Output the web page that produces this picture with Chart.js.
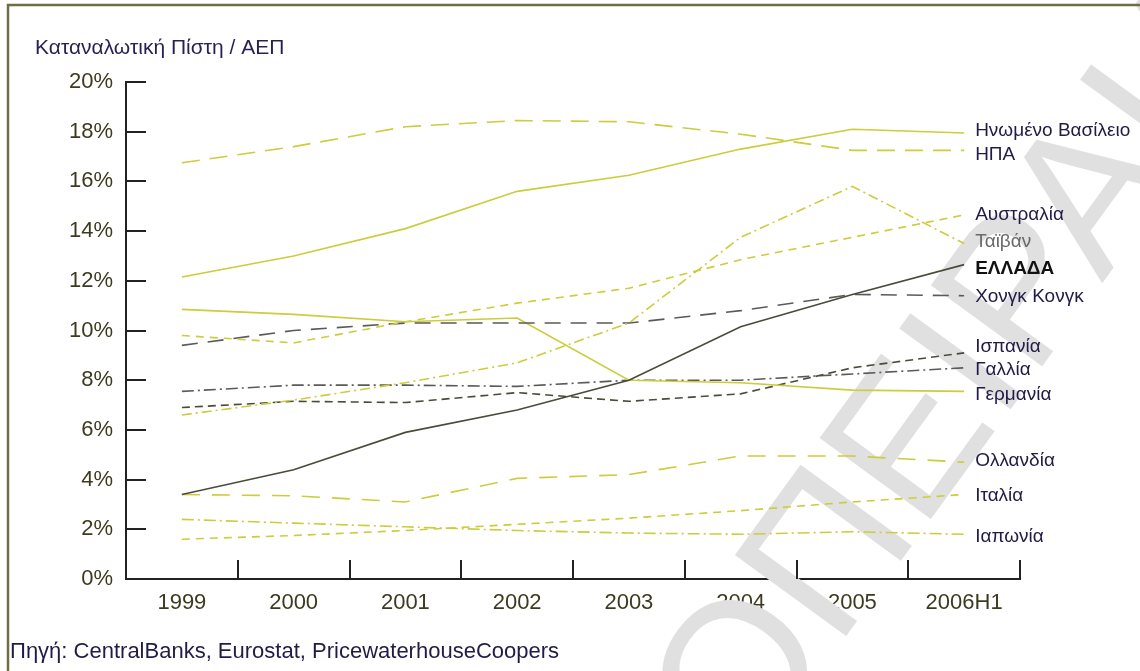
<!DOCTYPE html>
<html>
<head>
<meta charset="utf-8">
<script src="https://cdn.jsdelivr.net/npm/chart.js@4.4.0/dist/chart.umd.min.js"></script>
<style>
  html, body { margin: 0; padding: 0; background: #fff; }
</style>
</head>
<body>
<canvas id="myChart" width="1140" height="671"></canvas>
<script>
var years = ["1999", "2000", "2001", "2002", "2003", "2004", "2005", "2006H1"];
var yTicks = [0, 2, 4, 6, 8, 10, 12, 14, 16, 18, 20];

// values in % of GDP
var uk          = [12.15, 13.0, 14.1, 15.6, 16.25, 17.3, 18.1, 17.95];
var usa         = [16.75, 17.4, 18.2, 18.45, 18.4, 17.9, 17.25, 17.25];
var australia   = [9.8, 9.5, 10.35, 11.1, 11.7, 12.85, 13.75, 14.65];
var taiwan      = [6.6, 7.2, 7.9, 8.7, 10.3, 13.75, 15.8, 13.5];
var greece      = [3.4, 4.4, 5.9, 6.8, 8.0, 10.15, 11.45, 12.65];
var hongKong    = [9.4, 10.0, 10.3, 10.3, 10.3, 10.8, 11.45, 11.4];
var germany     = [10.85, 10.65, 10.35, 10.5, 8.0, 7.9, 7.6, 7.55];
var spain       = [6.9, 7.15, 7.1, 7.5, 7.15, 7.45, 8.5, 9.1];
var france      = [7.55, 7.8, 7.8, 7.75, 8.0, 8.0, 8.25, 8.5];
var netherlands = [3.4, 3.35, 3.1, 4.05, 4.2, 4.95, 4.95, 4.7];
var italy       = [1.6, 1.75, 1.95, 2.2, 2.45, 2.75, 3.1, 3.4];
var japan       = [2.4, 2.25, 2.1, 1.95, 1.85, 1.8, 1.9, 1.8];

var names = ["Ηνωμένο Βασίλειο", "ΗΠΑ", "Αυστραλία", "Ταϊβάν", "ΕΛΛΑΔΑ", "Χονγκ Κονγκ",
             "Ισπανία", "Γαλλία", "Γερμανία", "Ολλανδία", "Ιταλία", "Ιαπωνία"];
// where each end label sits (in % units)
var labelAt = [18.03, 17.06, 14.65, 13.56, 12.5, 11.35, 9.34, 8.41, 7.4, 4.75, 3.34, 1.69];

var YEL = "#cccc3c";
var DARK = "#4b4b3c";
var GREY = "#5a5a5a";

function line(data, color, dash) {
  return {
    data: data,
    borderColor: color,
    borderWidth: 1.6,
    borderDash: dash,
    pointRadius: 0,
    fill: false,
    tension: 0
  };
}

var datasets = [
  line(uk, YEL, []),
  line(usa, YEL, [18, 10]),
  line(australia, YEL, [8, 6]),
  line(taiwan, YEL, [10, 4, 2, 4]),
  line(greece, DARK, []),
  line(hongKong, GREY, [16, 10]),
  line(germany, YEL, []),
  line(spain, DARK, [8, 5]),
  line(france, GREY, [12, 4, 2, 4]),
  line(netherlands, YEL, [18, 12]),
  line(italy, YEL, [8, 6]),
  line(japan, YEL, [12, 4, 2, 4])
];
datasets.forEach(function (d, i) { d.label = names[i]; });

const FONT = "'Liberation Sans', Arial, sans-serif";

// big grey watermark behind the lines
const watermark = {
  id: "watermark",
  beforeDatasetsDraw(chart) {
    const ctx = chart.ctx;
    ctx.save();
    ctx.translate(745, 775);
    ctx.rotate(-54 * Math.PI / 180);
    ctx.font = "200px " + FONT;
    ctx.fillStyle = "#e0e0e0";
    ctx.textBaseline = "alphabetic";
    ctx.fillText("ΟΠΕΙΡΑΙΑ", 0, 0);
    ctx.restore();
  }
};

// inward tick marks, end labels, title, source, frame
const decor = {
  id: "decor",
  afterDraw(chart) {
    const ctx = chart.ctx;
    const xs = chart.scales.x, ys = chart.scales.y;
    const a = chart.chartArea;
    ctx.save();
    ctx.strokeStyle = "#222";
    ctx.lineWidth = 2;
    ctx.beginPath();
    yTicks.forEach(function (v) {
      if (v === 0) return;
      const y = Math.round(ys.getPixelForValue(v));
      ctx.moveTo(a.left, y);
      ctx.lineTo(a.left + 20, y);
    });
    const half = (xs.getPixelForValue(1) - xs.getPixelForValue(0)) / 2;
    years.forEach(function (yr, i) {
      const x = Math.round(xs.getPixelForValue(i) + half);
      ctx.moveTo(x, a.bottom);
      ctx.lineTo(x, a.bottom - 19);
    });
    ctx.stroke();

    // end labels
    const lx = xs.getPixelForValue(years.length - 1) + 11;
    ctx.textBaseline = "middle";
    ctx.textAlign = "left";
    names.forEach(function (n, i) {
      ctx.font = (i === 4 ? "bold " : "") + "19px " + FONT;
      ctx.fillStyle = i === 4 ? "#111" : (i === 3 ? "#6a6a6a" : "#231a48");
      ctx.fillText(n, lx, ys.getPixelForValue(labelAt[i]));
    });

    ctx.font = "21px " + FONT;
    ctx.fillStyle = "#2a1f52";
    ctx.fillText("Καταναλωτική Πίστη / ΑΕΠ", 35, 48);
    ctx.font = "22px " + FONT;
    ctx.fillStyle = "#231a48";
    ctx.fillText("Πηγή: CentralBanks, Eurostat, PricewaterhouseCoopers", 10, 652);

    ctx.strokeStyle = "#6e6e44";
    ctx.lineWidth = 2.5;
    ctx.beginPath();
    ctx.moveTo(8, 671);
    ctx.lineTo(8, 5);
    ctx.lineTo(1140, 5);
    ctx.stroke();
    ctx.restore();
  }
};

new Chart("myChart", {
  type: "line",
  data: { labels: years, datasets: datasets },
  options: {
    responsive: false,
    animation: false,
    layout: { padding: { left: 0, top: 82, right: 120, bottom: 52 } },
    plugins: {
      legend: { display: false },
      tooltip: { enabled: false }
    },
    scales: {
      x: {
        offset: true,
        grid: { display: false, drawTicks: false },
        border: { display: true, color: "#222", width: 2 },
        ticks: { color: "#3d3b1f", font: { family: FONT, size: 22 }, padding: 11, maxRotation: 0 },
        afterFit: function (s) { s.height = 40; }
      },
      y: {
        min: 0,
        max: 20,
        grid: { display: false, drawTicks: false },
        border: { display: true, color: "#222", width: 2 },
        ticks: {
          stepSize: 2,
          color: "#3d3b1f",
          font: { family: FONT, size: 22 },
          padding: 13,
          callback: function (v) { return v + "%"; }
        },
        afterFit: function (s) { s.width = 126; }
      }
    }
  },
  plugins: [watermark, decor]
});
</script>
</body>
</html>
